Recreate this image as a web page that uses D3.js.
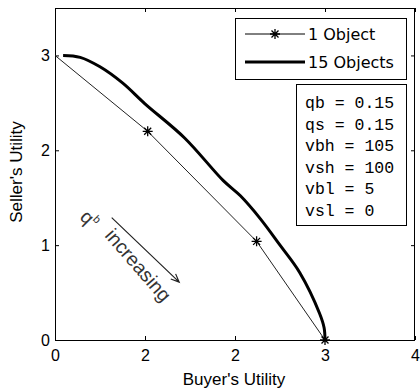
<!DOCTYPE html>
<html>
<head>
<meta charset="utf-8">
<script src="https://cdn.jsdelivr.net/npm/d3@7"></script>
<style>
  body { margin: 0; background: #fff; }
  svg { display: block; font-family: "Liberation Sans", Arial, sans-serif; }
</style>
</head>
<body>
<svg id="chart" width="420" height="389"></svg>
<script>
/* ── Data ──────────────────────────────────────────────────── */
const xTicks = [0, 1, 2, 3, 4];
const xTickLabels = ['0', '2', '2', '3', '4'];
const yTicks = [0, 1, 2, 3];
const yTickLabels = ['0', '1', '2', '3'];

// 1 Object (thin line, star markers)
const oneX = [0, 1.03, 2.24, 3.0];
const oneY = [3.0, 2.2, 1.04, 0];
const oneMarked = [false, true, true, true];

// 15 Objects (thick line)
const fifteenX = [0.09, 0.28, 0.5, 0.75, 1.0, 1.44, 1.87, 2.06, 2.28, 2.5, 2.72, 2.94, 2.99, 3.0];
const fifteenY = [3.0, 2.98, 2.88, 2.71, 2.49, 2.13, 1.68, 1.52, 1.28, 1.0, 0.71, 0.28, 0.13, 0];

const legendLabels = ['1 Object', '15 Objects'];
const paramLines = ['qb = 0.15', 'qs = 0.15', 'vbh = 105', 'vsh = 100', 'vbl = 5', 'vsl = 0'];

/* ── Layout ────────────────────────────────────────────────── */
const L = 55, R = 415, T = 8, B = 340;
const svg = d3.select('#chart');
const x = d3.scaleLinear().domain([0, 4]).range([L, R]);
const y = d3.scaleLinear().domain([0, 3.5]).range([B, T]);

/* ── Axes ──────────────────────────────────────────────────── */
function styleAxis(g) {
  g.select('.domain').remove();
  g.selectAll('line').attr('stroke', '#000').attr('stroke-width', 1);
  g.selectAll('text').attr('fill', '#000').attr('font-size', 16);
}

svg.append('g').attr('transform', `translate(0,${B})`)
  .call(d3.axisBottom(x).tickValues(xTicks).tickSizeInner(-4).tickSizeOuter(0)
    .tickPadding(10).tickFormat((d, i) => xTickLabels[i]))
  .call(styleAxis);

svg.append('g').attr('transform', `translate(${L},0)`)
  .call(d3.axisLeft(y).tickValues(yTicks).tickSizeInner(-4).tickSizeOuter(0)
    .tickPadding(5).tickFormat((d, i) => yTickLabels[i]))
  .call(styleAxis);

svg.append('g').attr('transform', `translate(0,${T})`)
  .call(d3.axisTop(x).tickValues(xTicks).tickSizeInner(-4).tickSizeOuter(0).tickFormat(''))
  .call(styleAxis);

svg.append('g').attr('transform', `translate(${R},0)`)
  .call(d3.axisRight(y).tickValues(yTicks).tickSizeInner(-4).tickSizeOuter(0).tickFormat(''))
  .call(styleAxis);

svg.append('rect')
  .attr('x', L + 0.5).attr('y', T + 0.5)
  .attr('width', R - L - 1).attr('height', B - T)
  .attr('fill', 'none').attr('stroke', '#000').attr('stroke-width', 1);

// Axis titles
svg.append('text')
  .attr('x', (L + R) / 2 - 1).attr('y', 385)
  .attr('text-anchor', 'middle').attr('font-size', 17)
  .text("Buyer's Utility");

svg.append('text')
  .attr('transform', 'translate(22,172) rotate(-90)')
  .attr('text-anchor', 'middle').attr('font-size', 17)
  .text("Seller's Utility");

/* ── Lines ─────────────────────────────────────────────────── */
const line = d3.line().x(d => x(d[0])).y(d => y(d[1]));
const smooth = d3.line().x(d => x(d[0])).y(d => y(d[1])).curve(d3.curveCatmullRom);
const onePts = oneX.map((v, i) => [v, oneY[i]]);
const fifteenPts = fifteenX.map((v, i) => [v, fifteenY[i]]);

svg.append('path').datum(onePts)
  .attr('d', line).attr('fill', 'none')
  .attr('stroke', '#222').attr('stroke-width', 1);

svg.append('path').datum(fifteenPts)
  .attr('d', smooth).attr('fill', 'none')
  .attr('stroke', '#000').attr('stroke-width', 3)
  .attr('stroke-linejoin', 'round');

function star(g, cx, cy, s) {
  const p = `M${cx - s},${cy}L${cx + s},${cy}M${cx},${cy - s}L${cx},${cy + s}` +
    `M${cx - s * 0.7},${cy - s * 0.7}L${cx + s * 0.7},${cy + s * 0.7}` +
    `M${cx - s * 0.7},${cy + s * 0.7}L${cx + s * 0.7},${cy - s * 0.7}`;
  g.append('path').attr('d', p).attr('stroke', '#000').attr('stroke-width', 1.3).attr('fill', 'none');
}

onePts.forEach((p, i) => { if (oneMarked[i]) star(svg, x(p[0]), y(p[1]), 5); });

/* ── Legend ────────────────────────────────────────────────── */
svg.append('rect')
  .attr('x', 235.5).attr('y', 18.5).attr('width', 171).attr('height', 61)
  .attr('fill', '#fff').attr('stroke', '#000').attr('stroke-width', 1);

[0, 1].forEach(i => {
  const ly = 34 + i * 28;
  svg.append('line')
    .attr('x1', 245).attr('x2', 305).attr('y1', ly).attr('y2', ly)
    .attr('stroke', '#000').attr('stroke-width', i === 0 ? 1 : 3);
  if (i === 0) star(svg, 275, ly, 5);
  svg.append('text')
    .attr('x', 308).attr('y', ly + 6)
    .attr('font-family', '"DejaVu Sans", sans-serif').attr('font-size', 16)
    .text(legendLabels[i]);
});

/* ── Parameter box ─────────────────────────────────────────── */
svg.append('rect')
  .attr('x', 296.5).attr('y', 84.5).attr('width', 110).attr('height', 141)
  .attr('fill', '#fff').attr('stroke', '#000').attr('stroke-width', 1);

svg.append('g').selectAll('text').data(paramLines).join('text')
  .attr('x', 305).attr('y', (d, i) => 108 + i * 21.6)
  .attr('font-family', '"Liberation Mono", "Courier New", monospace')
  .attr('font-size', 16.5)
  .attr('xml:space', 'preserve')
  .text(d => d);

/* ── Annotation: q^b increasing ────────────────────────────── */
const a0 = [x(0.63), y(1.29)], a1 = [x(1.38), y(0.61)];
const ang = Math.atan2(a1[1] - a0[1], a1[0] - a0[0]);
const ah = 9;
svg.append('path')
  .attr('d', `M${a0[0]},${a0[1]}L${a1[0]},${a1[1]}` +
    `M${a1[0] - ah * Math.cos(ang - 0.4)},${a1[1] - ah * Math.sin(ang - 0.4)}L${a1[0]},${a1[1]}` +
    `L${a1[0] - ah * Math.cos(ang + 0.4)},${a1[1] - ah * Math.sin(ang + 0.4)}`)
  .attr('fill', 'none').attr('stroke', '#222').attr('stroke-width', 1.2);

const qText = svg.append('text')
  .attr('transform', 'translate(79,218) rotate(45)')
  .attr('font-size', 19).attr('fill', '#333');
qText.append('tspan').text('q');
qText.append('tspan').attr('font-size', 11).attr('dy', -8).text('b');

svg.append('text')
  .attr('transform', 'translate(104,236) rotate(49)')
  .attr('font-size', 19.5).attr('fill', '#333')
  .text('increasing');
</script>
</body>
</html>
